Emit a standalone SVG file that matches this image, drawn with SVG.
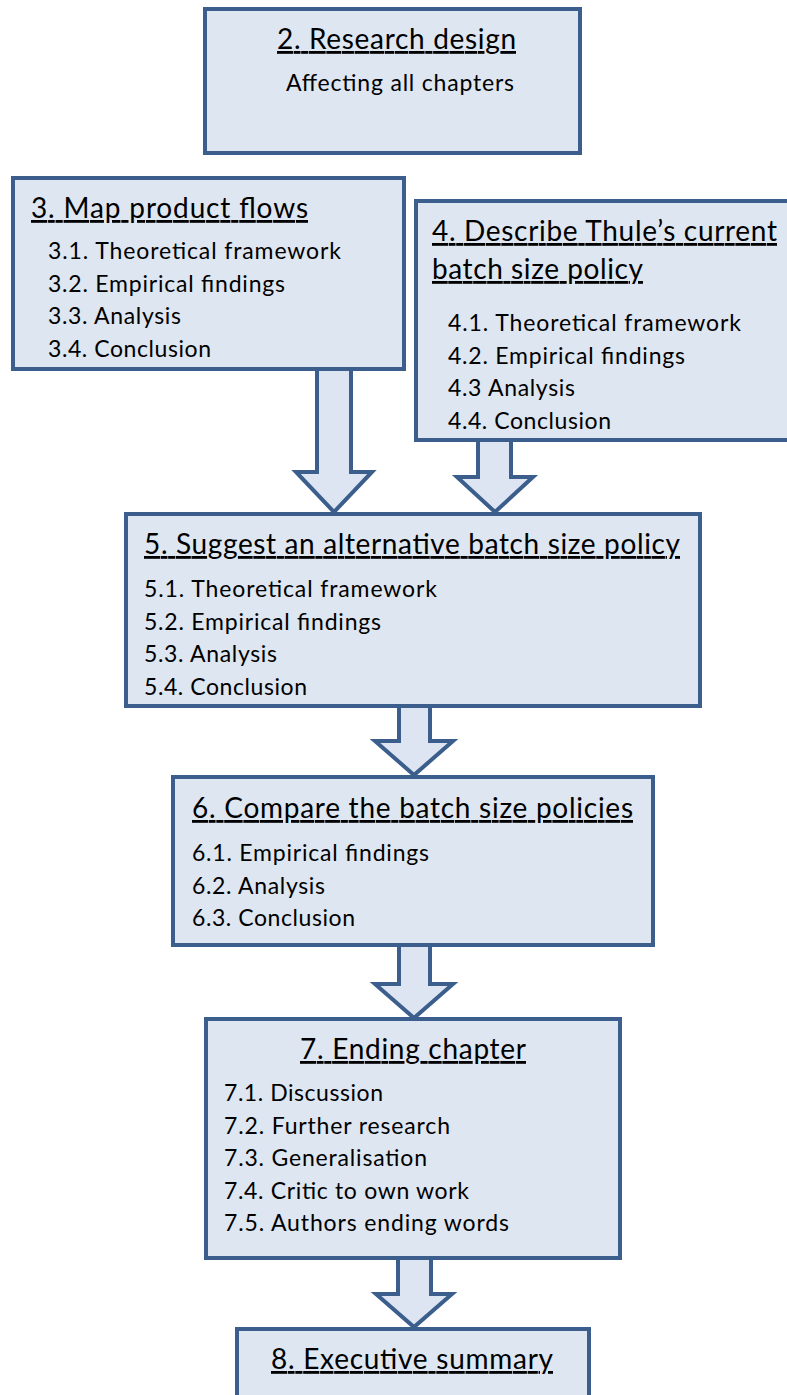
<svg xmlns="http://www.w3.org/2000/svg" width="787" height="1395" viewBox="0 0 787 1395">
<style>
.box{fill:#DEE6F1;stroke:#3B5E8C;stroke-width:4}
.arr{fill:#DCE5F1;stroke:#3B5E8C;stroke-width:4;stroke-linejoin:miter}
text{font-family:Lato,"Open Sans","Liberation Sans",sans-serif;fill:#000}
.t{font-size:28px;text-decoration:underline}
.i{font-size:23px}
</style>
<rect width="787" height="1395" fill="#fff"/>
<g id="connectors">
<polygon class="arr" points="317,369 351,369 351,472 372,472 334,512 296,472 317,472"/>
<polygon class="arr" points="478,440 511,440 511,477 533,477 495,512 457,477 478,477"/>
<polygon class="arr" points="399,706 430,706 430,741 453,741 414,775 375,741 399,741"/>
<polygon class="arr" points="399,945 430,945 430,984 453,984 414,1018 375,984 399,984"/>
<polygon class="arr" points="398,1258 431,1258 431,1294 452,1294 414,1327 376,1294 398,1294"/>
</g>
<g id="node2">
<rect class="box" x="205" y="9" width="375" height="144"/>
<text class="t" x="277" y="49" textLength="239" lengthAdjust="spacing">2. Research design</text>
<text class="i" x="286" y="91" textLength="228" lengthAdjust="spacing">Affecting all chapters</text>
</g>
<g id="node3">
<rect class="box" x="13" y="178" width="391" height="191"/>
<text class="t" x="31" y="218" textLength="277" lengthAdjust="spacing">3. Map product flows</text>
<text class="i" x="48" y="259" textLength="293" lengthAdjust="spacing">3.1. Theoretical framework</text>
<text class="i" x="48" y="292" textLength="237" lengthAdjust="spacing">3.2. Empirical findings</text>
<text class="i" x="48" y="324" textLength="133" lengthAdjust="spacing">3.3. Analysis</text>
<text class="i" x="48" y="357" textLength="163" lengthAdjust="spacing">3.4. Conclusion</text>
</g>
<g id="node4">
<rect class="box" x="416" y="201" width="390" height="239"/>
<text class="t" x="432" y="241" textLength="345" lengthAdjust="spacing">4. Describe Thule’s current</text>
<text class="t" x="432" y="279" textLength="211" lengthAdjust="spacing">batch size policy</text>
<text class="i" x="448" y="331" textLength="293" lengthAdjust="spacing">4.1. Theoretical framework</text>
<text class="i" x="448" y="364" textLength="237" lengthAdjust="spacing">4.2. Empirical findings</text>
<text class="i" x="448" y="396" textLength="127" lengthAdjust="spacing">4.3 Analysis</text>
<text class="i" x="448" y="429" textLength="163" lengthAdjust="spacing">4.4. Conclusion</text>
</g>
<g id="node5">
<rect class="box" x="126" y="514" width="574" height="192"/>
<text class="t" x="144" y="554" textLength="536" lengthAdjust="spacing">5. Suggest an alternative batch size policy</text>
<text class="i" x="144" y="597" textLength="293" lengthAdjust="spacing">5.1. Theoretical framework</text>
<text class="i" x="144" y="630" textLength="237" lengthAdjust="spacing">5.2. Empirical findings</text>
<text class="i" x="144" y="662" textLength="133" lengthAdjust="spacing">5.3. Analysis</text>
<text class="i" x="144" y="695" textLength="163" lengthAdjust="spacing">5.4. Conclusion</text>
</g>
<g id="node6">
<rect class="box" x="173" y="777" width="480" height="168"/>
<text class="t" x="192" y="818" textLength="441" lengthAdjust="spacing">6. Compare the batch size policies</text>
<text class="i" x="192" y="861" textLength="237" lengthAdjust="spacing">6.1. Empirical findings</text>
<text class="i" x="192" y="894" textLength="133" lengthAdjust="spacing">6.2. Analysis</text>
<text class="i" x="192" y="926" textLength="163" lengthAdjust="spacing">6.3. Conclusion</text>
</g>
<g id="node7">
<rect class="box" x="206" y="1019" width="414" height="239"/>
<text class="t" x="300" y="1059" textLength="226" lengthAdjust="spacing">7. Ending chapter</text>
<text class="i" x="224" y="1101" textLength="159" lengthAdjust="spacing">7.1. Discussion</text>
<text class="i" x="224" y="1134" textLength="226" lengthAdjust="spacing">7.2. Further research</text>
<text class="i" x="224" y="1166" textLength="203" lengthAdjust="spacing">7.3. Generalisation</text>
<text class="i" x="224" y="1199" textLength="245" lengthAdjust="spacing">7.4. Critic to own work</text>
<text class="i" x="224" y="1231" textLength="285" lengthAdjust="spacing">7.5. Authors ending words</text>
</g>
<g id="node8">
<rect class="box" x="237" y="1329" width="352" height="90"/>
<text class="t" x="271" y="1369" textLength="282" lengthAdjust="spacing">8. Executive summary</text>
</g>
</svg>
